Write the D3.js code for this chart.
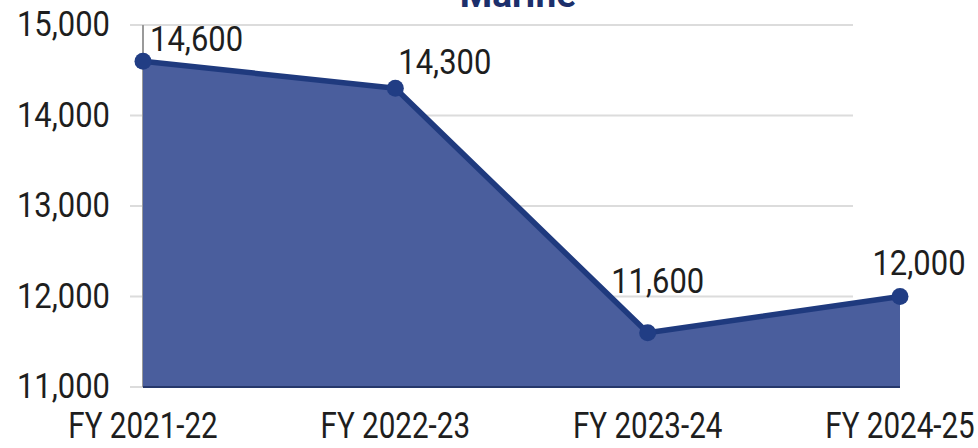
<!DOCTYPE html>
<html>
<head>
<meta charset="utf-8">
<script src="https://cdn.jsdelivr.net/npm/d3@7"></script>
<style>
  html, body { margin: 0; padding: 0; background: #ffffff; }
  svg { display: block; }
</style>
</head>
<body>
<svg id="chart" width="978" height="448"></svg>
<script>
// Marine volume by financial year
const categories = ["FY 2021-22", "FY 2022-23", "FY 2023-24", "FY 2024-25"];
const values = [14600, 14300, 11600, 12000];
const valueLabels = ["14,600", "14,300", "11,600", "12,000"];
const yTicks = [11000, 12000, 13000, 14000, 15000];
const title = "Marine";

// label placement relative to each point: [dx, dy, anchor]
const labelNudge = [[7, -10, "start"], [3, -14, "start"], [10, -40, "middle"], [19, -22, "middle"]];

const svg = d3.select("#chart");

const x = d3.scalePoint().domain(categories).range([143, 900]);
const y = d3.scaleLinear().domain([11000, 15000]).range([387, 25]);

const font = "Roboto, 'Noto Sans', sans-serif";

// narrow the glyphs horizontally around an anchor point
function narrowText(sel, px, py, sx) {
  return sel.attr("transform", `translate(${px},${py}) scale(${sx},1)`);
}

// gridlines
svg.append("g")
  .selectAll("line")
  .data(yTicks)
  .join("line")
  .attr("x1", 130).attr("x2", 853)
  .attr("y1", d => y(d)).attr("y2", d => y(d))
  .attr("stroke", "#dcdcdc")
  .attr("stroke-width", 2);

// vertical axis line
svg.append("line")
  .attr("x1", x(categories[0])).attr("x2", x(categories[0]))
  .attr("y1", y(15000)).attr("y2", y(11000))
  .attr("stroke", "#9a9a9a")
  .attr("stroke-width", 2);

const data = categories.map((c, i) => ({ c, v: values[i], label: valueLabels[i] }));

// filled area
const area = d3.area()
  .x(d => x(d.c))
  .y0(y(11000))
  .y1(d => y(d.v));

svg.append("path")
  .datum(data)
  .attr("d", area)
  .attr("fill", "#4a5e9d");

// baseline under the area
svg.append("line")
  .attr("x1", x(categories[0])).attr("x2", x(categories[categories.length - 1]))
  .attr("y1", y(11000)).attr("y2", y(11000))
  .attr("stroke", "#26386b")
  .attr("stroke-width", 2);

// outline
const line = d3.line().x(d => x(d.c)).y(d => y(d.v));
svg.append("path")
  .datum(data)
  .attr("d", line)
  .attr("fill", "none")
  .attr("stroke", "#1f3a7e")
  .attr("stroke-width", 5.5)
  .attr("stroke-linejoin", "round");

// markers
svg.append("g")
  .selectAll("circle")
  .data(data)
  .join("circle")
  .attr("cx", d => x(d.c))
  .attr("cy", d => y(d.v))
  .attr("r", 8.5)
  .attr("fill", "#213d84");

// value labels
svg.append("g")
  .selectAll("text")
  .data(data)
  .join("text")
  .each(function (d, i) {
    const [dx, dy, anchor] = labelNudge[i];
    narrowText(d3.select(this), x(d.c) + dx, y(d.v) + dy, 0.86)
      .attr("text-anchor", anchor);
  })
  .attr("font-family", font)
  .attr("font-size", 36)
  .attr("fill", "#1e1e1e")
  .text(d => d.label);

// y axis tick labels
const fmt = d3.format(",");
svg.append("g")
  .selectAll("text")
  .data(yTicks)
  .join("text")
  .each(function (d) { narrowText(d3.select(this), 110, y(d) + 11, 0.86); })
  .attr("text-anchor", "end")
  .attr("font-family", font)
  .attr("font-size", 36)
  .attr("fill", "#1e1e1e")
  .text(d => fmt(d));

// x axis category labels
svg.append("g")
  .selectAll("text")
  .data(categories)
  .join("text")
  .each(function (d) { narrowText(d3.select(this), x(d), 438, 0.8); })
  .attr("text-anchor", "middle")
  .attr("font-family", font)
  .attr("font-size", 37)
  .attr("fill", "#1e1e1e")
  .text(d => d);

// title
svg.append("text")
  .attr("x", 518)
  .attr("y", 7)
  .attr("text-anchor", "middle")
  .attr("font-family", font)
  .attr("font-weight", "bold")
  .attr("font-size", 37)
  .attr("fill", "#1c2f6b")
  .text(title);
</script>
</body>
</html>
